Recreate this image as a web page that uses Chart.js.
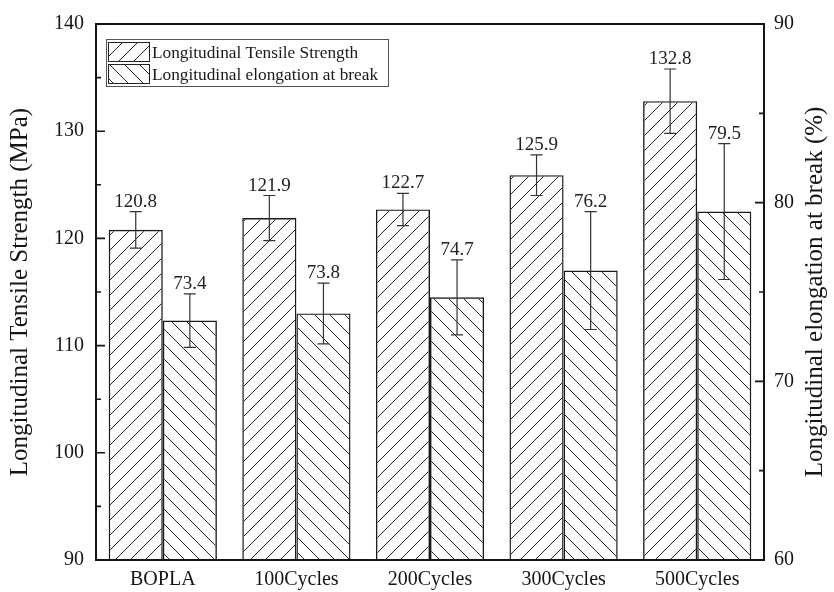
<!DOCTYPE html>
<html>
<head>
<meta charset="utf-8">
<style>
  html, body { margin: 0; padding: 0; background: #fff; }
  #wrap { width: 834px; height: 592px; }
</style>
<script src="https://cdn.jsdelivr.net/npm/chart.js@4.4.1/dist/chart.umd.min.js"></script>
</head>
<body>
<div id="wrap"><canvas id="c" width="834" height="592"></canvas></div>
<script>
// Samples and measured properties
const categories = ['BOPLA', '100Cycles', '200Cycles', '300Cycles', '500Cycles'];
const tensileStrength = [120.8, 121.9, 122.7, 125.9, 132.8];   // MPa
const tensileError = [1.7, 2.1, 1.5, 1.9, 3.0];
const elongation = [73.4, 73.8, 74.7, 76.2, 79.5];             // %
const elongationError = [1.5, 1.7, 2.1, 3.3, 3.8];
const strengthTicks = [90, 100, 110, 120, 130, 140];
const elongationTicks = [60, 70, 80, 90];

const SERIF = '"Liberation Serif", "Times New Roman", serif';
const INK = '#151515';

// Diagonal hatch fills
function hatch(dir, size) {
  const c = document.createElement('canvas');
  c.width = size; c.height = size;
  const g = c.getContext('2d');
  g.strokeStyle = '#222';
  g.lineWidth = 1;
  g.beginPath();
  if (dir === '/') {
    g.moveTo(0, size); g.lineTo(size, 0);
    g.moveTo(-2, 2); g.lineTo(2, -2);
    g.moveTo(size - 2, size + 2); g.lineTo(size + 2, size - 2);
  } else {
    g.moveTo(0, 0); g.lineTo(size, size);
    g.moveTo(size - 2, -2); g.lineTo(size + 2, 2);
    g.moveTo(-2, size - 2); g.lineTo(2, size + 2);
  }
  g.stroke();
  return g.createPattern(c, 'repeat');
}
const fwdHatch = hatch('/', 15);
const backHatch = hatch('\\', 15);

const errors = [tensileError, elongationError];

// Frame, inward ticks, error bars, value labels, legend, axis titles
const decorations = {
  id: 'decorations',
  afterDatasetsDraw(chart) {
    const ctx = chart.ctx;
    const a = chart.chartArea;
    const sy = chart.scales.y, sy1 = chart.scales.y1;

    ctx.save();
    // error bars and labels
    chart.data.datasets.forEach((ds, di) => {
      const meta = chart.getDatasetMeta(di);
      const scale = di === 0 ? sy : sy1;
      meta.data.forEach((bar, i) => {
        const v = ds.data[i], e = errors[di][i];
        const x = bar.x;
        const yt = scale.getPixelForValue(v + e);
        const yb = scale.getPixelForValue(v - e);
        ctx.strokeStyle = '#333';
        ctx.lineWidth = 1.2;
        ctx.beginPath();
        ctx.moveTo(x, yt); ctx.lineTo(x, yb);
        ctx.moveTo(x - 6, yt); ctx.lineTo(x + 6, yt);
        ctx.moveTo(x - 6, yb); ctx.lineTo(x + 6, yb);
        ctx.stroke();
        ctx.fillStyle = '#222';
        ctx.font = '19px ' + SERIF;
        ctx.textAlign = 'center';
        ctx.textBaseline = 'alphabetic';
        ctx.fillText(v.toFixed(1), x, yt - 5);
      });
    });

    // frame
    ctx.strokeStyle = INK;
    ctx.lineWidth = 2;
    ctx.strokeRect(a.left, a.top, a.right - a.left, a.bottom - a.top);

    // inward ticks, majors every 10, minors every 5
    ctx.lineWidth = 1.6;
    ctx.beginPath();
    for (let v = 90; v <= 140; v += 5) {
      const y = sy.getPixelForValue(v);
      const len = v % 10 === 0 ? 9 : 5;
      ctx.moveTo(a.left, y); ctx.lineTo(a.left + len, y);
    }
    for (let v = 60; v <= 90; v += 5) {
      const y = sy1.getPixelForValue(v);
      const len = v % 10 === 0 ? 9 : 5;
      ctx.moveTo(a.right, y); ctx.lineTo(a.right - len, y);
    }
    ctx.stroke();

    // legend
    const lx = 106, ly = 39, lw = 282, lh = 47;
    ctx.fillStyle = '#fff';
    ctx.fillRect(lx, ly, lw, lh);
    ctx.strokeStyle = '#555';
    ctx.lineWidth = 1;
    ctx.strokeRect(lx + 0.5, ly + 0.5, lw, lh);
    chart.data.datasets.forEach((ds, di) => {
      const ry = ly + 3 + di * 22;
      ctx.fillStyle = ds.backgroundColor;
      ctx.fillRect(108, ry, 42, 20);
      ctx.strokeStyle = '#222';
      ctx.lineWidth = 1;
      ctx.strokeRect(108.5, ry + 0.5, 41, 19);
      ctx.fillStyle = '#1a1a1a';
      ctx.font = '17.3px ' + SERIF;
      ctx.textAlign = 'left';
      ctx.textBaseline = 'middle';
      ctx.fillText(ds.label, 152, ry + 11);
    });

    // axis titles
    ctx.fillStyle = INK;
    ctx.font = '25px ' + SERIF;
    ctx.textAlign = 'center';
    ctx.textBaseline = 'middle';
    const cy = (a.top + a.bottom) / 2;
    ctx.save();
    ctx.translate(20, cy);
    ctx.rotate(-Math.PI / 2);
    ctx.fillText('Longitudinal Tensile Strength (MPa)', 0, 0);
    ctx.restore();
    ctx.save();
    ctx.translate(815, cy);
    ctx.rotate(-Math.PI / 2);
    ctx.fillText('Longitudinal elongation at break (%)', 0, 0);
    ctx.restore();

    ctx.restore();
  }
};

new Chart(document.getElementById('c'), {
  type: 'bar',
  data: {
    labels: categories,
    datasets: [
      {
        label: 'Longitudinal Tensile Strength',
        data: tensileStrength,
        yAxisID: 'y',
        backgroundColor: fwdHatch,
        borderColor: '#1a1a1a',
        borderWidth: 1.4,
        borderSkipped: false,
        barPercentage: 1,
        categoryPercentage: 0.81
      },
      {
        label: 'Longitudinal elongation at break',
        data: elongation,
        yAxisID: 'y1',
        backgroundColor: backHatch,
        borderColor: '#1a1a1a',
        borderWidth: 1.4,
        borderSkipped: false,
        barPercentage: 1,
        categoryPercentage: 0.81
      }
    ]
  },
  options: {
    responsive: false,
    animation: false,
    devicePixelRatio: 1,
    layout: { padding: { top: 23, left: 0, right: 0, bottom: 0 } },
    plugins: { legend: { display: false }, tooltip: { enabled: false } },
    scales: {
      x: {
        grid: { display: false, drawTicks: false },
        border: { display: false },
        ticks: { color: INK, font: { family: SERIF, size: 20 }, padding: 8 },
        afterFit(s) { s.height = 32; }
      },
      y: {
        position: 'left',
        min: 90, max: 140,
        afterBuildTicks(s) { s.ticks = strengthTicks.map(v => ({ value: v })); },
        grid: { display: false, drawTicks: false },
        border: { display: false },
        ticks: { color: INK, font: { family: SERIF, size: 20 }, padding: 12 },
        afterFit(s) { s.width = 96; }
      },
      y1: {
        position: 'right',
        min: 60, max: 90,
        afterBuildTicks(s) { s.ticks = elongationTicks.map(v => ({ value: v })); },
        grid: { display: false, drawTicks: false },
        border: { display: false },
        ticks: { color: INK, font: { family: SERIF, size: 20 }, padding: 10 },
        afterFit(s) { s.width = 70; }
      }
    }
  },
  plugins: [decorations]
});
</script>
</body>
</html>
